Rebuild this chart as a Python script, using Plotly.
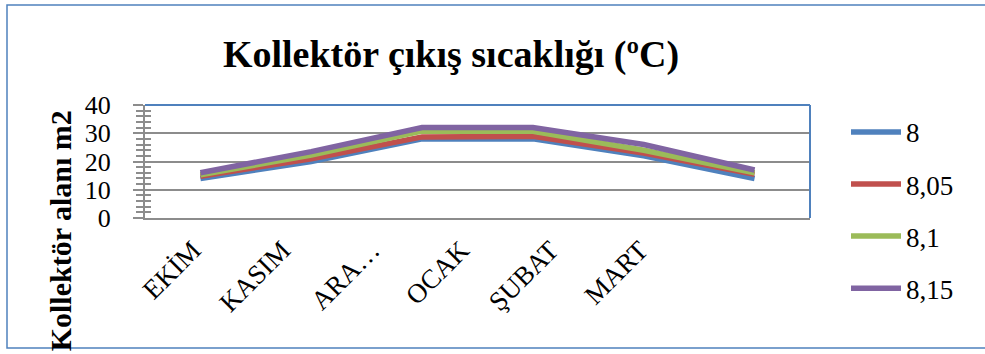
import plotly.graph_objects as go

# Months (October–March) and collector outlet temperature per collector area
months = ["EKİM", "KASIM", "ARA…", "OCAK", "ŞUBAT", "MART"]
series_names = ["8", "8,05", "8,1", "8,15"]
vals_8 = [14, 20, 28, 28, 22, 14]
vals_805 = [14.8, 21, 28.7, 28.9, 23, 15.5]
vals_81 = [15.3, 22.3, 30.8, 30.7, 24, 16]
vals_815 = [16, 23.5, 32, 32, 26, 17]
y_ticks = [0, 10, 20, 30, 40]

colors = ["#4F81BD", "#C0504D", "#9BBB59", "#8064A2"]
serif = "Liberation Serif, Times New Roman, serif"
W, H = 985, 354
L, R, T, B = 145, 175, 105, 136
pw, ph = W - L - R, H - T - B

fig = go.Figure()
for name, vals, col in zip(series_names, [vals_8, vals_805, vals_81, vals_815], colors):
    fig.add_trace(go.Scatter(
        x=months, y=vals, name=name, mode="lines",
        line=dict(color=col, width=5.5),
        legendgroup=name,
    ))

# invisible helpers so the auxiliary axes get laid out
fig.add_trace(go.Scatter(x=[months[0]], y=[0], yaxis="y2", mode="markers",
                         marker=dict(opacity=0), showlegend=False, hoverinfo="skip"))
fig.add_trace(go.Scatter(x=[0], y=[0], xaxis="x2", mode="markers",
                         marker=dict(opacity=0), showlegend=False, hoverinfo="skip"))

grid_gray = "#8C8C8C"

fig.update_layout(
    width=W, height=H,
    margin=dict(l=L, r=R, t=T, b=B),
    paper_bgcolor="white", plot_bgcolor="rgba(0,0,0,0)",
    font=dict(family=serif, color="black"),
    title=dict(
        text="<b>Kollektör çıkış sıcaklığı (ºC)</b>",
        font=dict(family=serif, size=38, color="black"),
        x=451 / W, xanchor="center",
        y=1 - 54 / H, yanchor="middle",
    ),
    showlegend=True,
    legend=dict(
        x=(846 - L) / pw, xanchor="left",
        y=0.975, yanchor="top",
        font=dict(family=serif, size=27, color="black"),
        bgcolor="rgba(0,0,0,0)",
        tracegroupgap=14,
        itemwidth=50,
        maxheight=320,
    ),
    xaxis=dict(
        type="category", categoryorder="array", categoryarray=months,
        range=[-0.5, 5.5],
        showline=True, linecolor=grid_gray, linewidth=2,
        showgrid=False, ticks="", showticklabels=False,
        zeroline=False,
    ),
    # month labels on their own axis below the plot
    xaxis2=dict(
        domain=[(148.25 - L) / pw, (684.75 - L) / pw],
        anchor="y", range=[-0.5, 5.5],
        tickmode="array", tickvals=list(range(len(months))), ticktext=months,
        tickangle=-45, ticks="", showline=False, showgrid=False, zeroline=False,
        tickfont=dict(family=serif, size=27, color="black"),
        ticklabelstandoff=10,
    ),
    yaxis=dict(
        range=[0, 40], tickmode="array", tickvals=y_ticks,
        showline=True, linecolor=grid_gray, linewidth=2,
        showgrid=False,
        ticks="outside", ticklen=10, tickwidth=2, tickcolor=grid_gray,
        minor=dict(dtick=2, ticks="outside", ticklen=7, tickwidth=2, tickcolor=grid_gray, showgrid=False),
        tickfont=dict(family=serif, size=26, color="black"),
        ticklabelstandoff=17,
        zeroline=False,
    ),
    # gridlines and the inner half of the crossing tick marks
    yaxis2=dict(
        overlaying="y", anchor="x", side="left",
        range=[0, 40], tickmode="array", tickvals=y_ticks,
        showline=False, showgrid=True, gridcolor=grid_gray, gridwidth=2, zeroline=False,
        ticks="inside", ticklen=8, tickwidth=2, tickcolor=grid_gray,
        minor=dict(dtick=2, ticks="inside", ticklen=6, tickwidth=2, tickcolor=grid_gray, showgrid=False),
        showticklabels=False,
    ),
)

# y-axis title
fig.add_annotation(
    text="<b>Kollektör alanı m2</b>", textangle=-90,
    xref="paper", yref="paper",
    x=(60 - L) / pw, y=(217.7 - 231) / ph,
    xanchor="center", yanchor="middle", showarrow=False,
    font=dict(family=serif, size=30, color="black"),
)

# plot-area frame: blue top and right edges
frame_blue = "#4F81BD"
fig.add_shape(type="line", xref="x domain", yref="y domain", x0=0, x1=1, y0=1, y1=1,
              line=dict(color=frame_blue, width=2))
fig.add_shape(type="line", xref="x domain", yref="y domain", x0=1, x1=1, y0=0, y1=1,
              line=dict(color=frame_blue, width=2))

# chart outer frame
fig.add_shape(type="rect", xref="paper", yref="paper",
              x0=(7 - L) / pw, x1=(995 - L) / pw,
              y0=(H - B - 348) / ph, y1=(H - B - 5) / ph,
              line=dict(color=frame_blue, width=1.5), layer="below")

fig.write_html("out.html")
